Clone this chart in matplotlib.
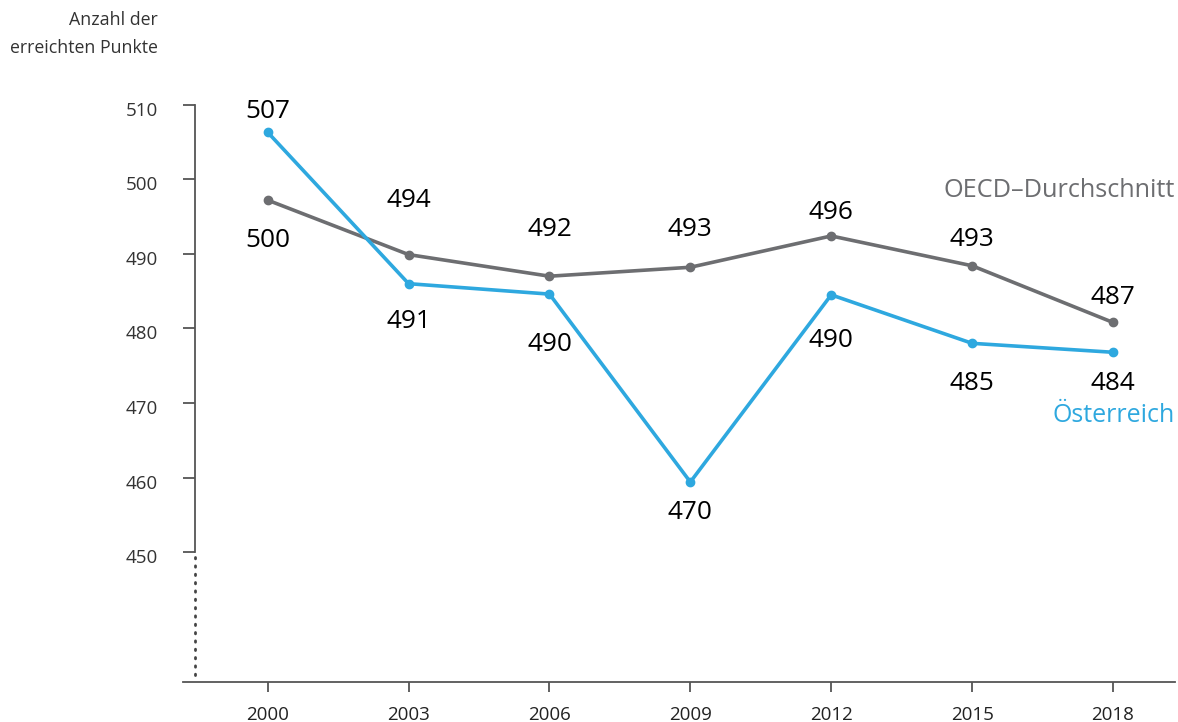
import matplotlib
matplotlib.use("Agg")
import matplotlib.pyplot as plt
import matplotlib.transforms as mtransforms

plt.rcParams['font.family'] = ['Open Sans', 'DejaVu Sans']

years = ["2000", "2003", "2006", "2009", "2012", "2015", "2018"]
# plotted positions (as drawn in the reference)
oecd_values = [497.2, 489.9, 487.0, 488.2, 492.4, 488.4, 480.8]
austria_values = [506.3, 486.0, 484.6, 459.4, 484.5, 478.0, 476.8]
# printed labels
oecd_labels = ["500", "494", "492", "493", "496", "493", "487"]
austria_labels = ["507", "491", "490", "470", "490", "485", "484"]
yticks = [450, 460, 470, 480, 490, 500, 510]

# label offsets (pixels, label centre relative to point; positive = down)
oecd_off = [40, -54, -47, -38, -23, -26, -25]
austria_off = [-21, 38, 50, 30, 46, 40, 31]

GREY = "#6d6e71"
BLUE = "#2ea8df"
W, H = 1178, 722
fig = plt.figure(figsize=(W / 100, H / 100), dpi=100)
ax = fig.add_axes([183 / W, (H - 682.3) / H, (1175 - 183) / W, (682.3 - 104.7) / H])

x = list(range(len(years)))
ymin = 510 - (682.3 - 104.7) / 7.457
ax.set_ylim(ymin, 510)
x0, dx = 267.7, (1113 - 267.7) / 6
ax.set_xlim((183 - x0) / dx, (1175 - x0) / dx)
yaxis_x = (195 - x0) / dx

ax.plot(x, oecd_values, color=GREY, lw=2.6, marker='o', ms=6, zorder=3, clip_on=False)
ax.plot(x, austria_values, color=BLUE, lw=2.6, marker='o', ms=6, zorder=3, clip_on=False)

def px_offset(dy):
    return mtransforms.offset_copy(ax.transData, fig=fig, x=0, y=-dy * 0.72, units='points')

for i in x:
    ax.text(i, oecd_values[i], oecd_labels[i], transform=px_offset(oecd_off[i]),
            ha='center', va='center', fontsize=18.8, color='black')
    ax.text(i, austria_values[i], austria_labels[i], transform=px_offset(austria_off[i]),
            ha='center', va='center', fontsize=18.8, color='black')

# spines
for s in ['top', 'right']:
    ax.spines[s].set_visible(False)
ax.spines['left'].set_position(('data', yaxis_x))
ax.spines['left'].set_bounds(450, 510)
ax.spines['left'].set_color('#555555')
ax.spines['left'].set_linewidth(1.3)
ax.spines['bottom'].set_color('#555555')
ax.spines['bottom'].set_linewidth(1.3)
ax.plot([yaxis_x, yaxis_x], [449.3, ymin + 0.2], color='#444444', lw=2,
        linestyle=(0, (0.5, 2.5)), dash_capstyle='round', clip_on=False)

ax.set_yticks(yticks)
ax.set_yticklabels([str(v) for v in yticks])
ax.tick_params(axis='y', length=8.6, width=1.3, color='#555555', pad=18,
               labelsize=13.5, labelcolor='#333333')
shift = mtransforms.ScaledTranslation(0, -4 / 100, fig.dpi_scale_trans)
for lab in ax.get_yticklabels():
    lab.set_transform(lab.get_transform() + shift)
ax.set_xticks(x)
ax.set_xticklabels(years)
ax.tick_params(axis='x', length=7, width=1.3, color='#555555', pad=10,
               labelsize=13.5, labelcolor='#222222')

# axis title
fig.text(158 / W, 1 - 20 / H, "Anzahl der", ha='right', va='center', fontsize=12.8, color='#333333')
fig.text(158 / W, 1 - 48 / H, "erreichten Punkte", ha='right', va='center', fontsize=12.8, color='#333333')

# series labels
fig.text(1175 / W, 1 - 197 / H, "OECD\u2013Durchschnitt", ha='right', va='baseline',
         fontsize=18.2, color=GREY)
fig.text(1175 / W, 1 - 422 / H, "Österreich", ha='right', va='baseline',
         fontsize=18, color=BLUE)

fig.savefig("out.png", dpi=100)
